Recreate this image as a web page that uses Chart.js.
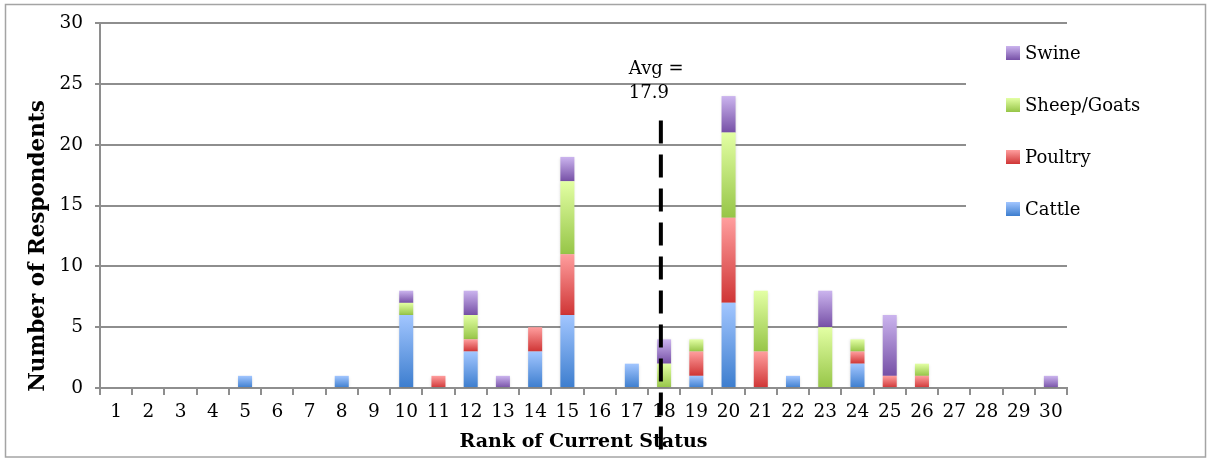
<!DOCTYPE html>
<html>
<head>
<meta charset="utf-8">
<script src="https://cdn.jsdelivr.net/npm/chart.js@4/dist/chart.umd.min.js"></script>
<style>
  html, body { margin: 0; padding: 0; background: #fff; }
  #wrap { width: 1209px; height: 459px; }
</style>
</head>
<body>
<div id="wrap"><canvas id="c" width="1209" height="459"></canvas></div>
<script>
// Rank categories shown along the x axis
const ranks = ['1','2','3','4','5','6','7','8','9','10','11','12','13','14','15',
               '16','17','18','19','20','21','22','23','24','25','26','27','28','29','30'];

// Respondents per rank, by livestock type (stacked bottom to top)
const cattle  = [0,0,0,0,1,0,0,1,0,6,0,3,0,3,6,0,2,0,1,7,0,1,0,2,0,0,0,0,0,0];
const poultry = [0,0,0,0,0,0,0,0,0,0,1,1,0,2,5,0,0,0,2,7,3,0,0,1,1,1,0,0,0,0];
const sheep   = [0,0,0,0,0,0,0,0,0,1,0,2,0,0,6,0,0,2,1,7,5,0,5,1,0,1,0,0,0,0];
const swine   = [0,0,0,0,0,0,0,0,0,1,0,2,1,0,2,0,0,2,0,3,0,0,3,0,5,0,0,0,0,1];

const seriesNames = ['Cattle', 'Poultry', 'Sheep/Goats', 'Swine'];
const yTicks = [0, 5, 10, 15, 20, 25, 30];

// Average rank marked with a dashed line
const avgRank = 17.9;

const xTitle = 'Rank of Current Status';
const yTitle = 'Number of Respondents';

// light (top) -> dark (bottom) shading for each series
const palette = {
  'Cattle':      ['#a2c6ff', '#3c7dce'],
  'Poultry':     ['#ff9e9e', '#cf3535'],
  'Sheep/Goats': ['#e3ffa4', '#96c547'],
  'Swine':       ['#cbb4ee', '#7650a6']
};

const SERIF = '"DejaVu Serif", "Liberation Serif", serif';

function gradientFill(name) {
  const [light, dark] = palette[name];
  return (ctx) => {
    const chart = ctx.chart;
    if (!chart.chartArea || ctx.type !== 'data') return dark;
    const ys = chart.scales.y;
    const i = ctx.dataIndex, di = ctx.datasetIndex;
    let base = 0;
    for (let d = 0; d < di; d++) base += chart.data.datasets[d].data[i];
    const top = base + chart.data.datasets[di].data[i];
    const y0 = ys.getPixelForValue(top), y1 = ys.getPixelForValue(base);
    if (y1 - y0 < 0.5) return dark;
    const g = chart.ctx.createLinearGradient(0, y0, 0, y1);
    g.addColorStop(0, light);
    g.addColorStop(1, dark);
    return g;
  };
}

function swatchFill(c, name, y, s) {
  const [light, dark] = palette[name];
  const g = c.createLinearGradient(0, y, 0, y + s);
  g.addColorStop(0, light);
  g.addColorStop(1, dark);
  return g;
}

const values = [cattle, poultry, sheep, swine];
const datasets = seriesNames.map((name, k) => ({
  label: name,
  data: values[k],
  backgroundColor: gradientFill(name),
  borderWidth: 0,
  categoryPercentage: 1,
  barPercentage: 0.435
}));

// white page background, outer frame and the vertical axis title
const frame = {
  id: 'frame',
  beforeDraw(chart) {
    const c = chart.ctx;
    c.save();
    c.fillStyle = '#fff';
    c.fillRect(0, 0, chart.width, chart.height);
    c.restore();
  },
  afterDraw(chart) {
    const c = chart.ctx;
    c.save();
    c.strokeStyle = '#a4a4a4';
    c.lineWidth = 1.5;
    c.strokeRect(5.5, 4.5, chart.width - 9, chart.height - 6.5);
    // y axis title, set low beside the axis
    c.translate(38, chart.chartArea.bottom - 142);
    c.rotate(-Math.PI / 2);
    c.fillStyle = '#000';
    c.font = 'bold 21.5px ' + SERIF;
    c.textAlign = 'center';
    c.textBaseline = 'middle';
    c.fillText(yTitle, 0, 0);
    c.restore();
  }
};

// faint drop shadow under the bars
const barShadow = {
  id: 'barShadow',
  beforeDatasetsDraw(chart) {
    const c = chart.ctx;
    c.save();
    c.shadowColor = 'rgba(0,0,0,0.18)';
    c.shadowBlur = 3;
    c.shadowOffsetX = 0;
    c.shadowOffsetY = 1;
  },
  afterDatasetsDraw(chart) {
    chart.ctx.restore();
  }
};

// dashed average line with its label
const avgLine = {
  id: 'avgLine',
  afterDatasetsDraw(chart) {
    const c = chart.ctx;
    const xs = chart.scales.x, ys = chart.scales.y;
    const x = xs.getPixelForValue(avgRank - 1);
    const yTop = ys.getPixelForValue(22);
    const yBot = chart.chartArea.bottom + 67;
    c.save();
    c.strokeStyle = '#000';
    c.lineWidth = 4;
    c.setLineDash([23, 11]);
    c.beginPath();
    c.moveTo(x, yTop);
    c.lineTo(x, yBot);
    c.stroke();
    c.setLineDash([]);
    c.fillStyle = '#000';
    c.font = '18px ' + SERIF;
    c.textAlign = 'left';
    c.textBaseline = 'alphabetic';
    c.fillText('Avg =', x - 32, 74);
    c.fillText(String(avgRank), x - 32, 98);
    c.restore();
  }
};

// legend panel on the right, listed top series first
const sideLegend = {
  id: 'sideLegend',
  afterDraw(chart) {
    const c = chart.ctx;
    const area = chart.chartArea;
    c.save();
    c.fillStyle = '#fff';
    c.fillRect(area.right - 101, 31, 230, 206);
    const names = seriesNames.slice().reverse();
    c.font = '18px ' + SERIF;
    c.textBaseline = 'middle';
    c.textAlign = 'left';
    names.forEach((name, k) => {
      const cy = 53 + k * 52;
      const sx = area.right - 61, s = 14;
      c.fillStyle = swatchFill(c, name, cy - 7, s);
      c.fillRect(sx, cy - 7, s, s);
      c.fillStyle = '#000';
      c.fillText(name, sx + 19, cy + 1);
    });
    c.restore();
  }
};

const gridGray = '#8e8e8e';

new Chart(document.getElementById('c'), {
  type: 'bar',
  data: { labels: ranks, datasets },
  plugins: [frame, barShadow, avgLine, sideLegend],
  options: {
    responsive: false,
    animation: false,
    devicePixelRatio: 1,
    layout: { padding: { top: 21, right: 142, bottom: 0, left: 0 } },
    plugins: {
      legend: { display: false },
      tooltip: { enabled: false }
    },
    scales: {
      x: {
        stacked: true,
        offset: true,
        grid: {
          offset: true,
          drawOnChartArea: false,
          drawTicks: true,
          tickLength: 7,
          color: gridGray,
          lineWidth: 2
        },
        border: { display: true, color: gridGray, width: 2 },
        ticks: {
          autoSkip: false,
          maxRotation: 0,
          color: '#000',
          padding: 6,
          font: { family: SERIF, size: 18.5 }
        },
        title: {
          display: true,
          text: xTitle,
          color: '#000',
          font: { family: SERIF, size: 19, weight: 'bold' },
          padding: { top: 0, bottom: 6 }
        },
        afterFit(scale) { scale.height = 71; }
      },
      y: {
        stacked: true,
        min: 0,
        max: 30,
        afterBuildTicks(scale) { scale.ticks = yTicks.map(v => ({ value: v })); },
        grid: {
          color: gridGray,
          lineWidth: 2,
          drawTicks: true,
          tickLength: 5
        },
        border: { display: true, color: gridGray, width: 2 },
        ticks: {
          color: '#000',
          padding: 12,
          font: { family: SERIF, size: 18.5 }
        },
        title: { display: false },
        afterFit(scale) { scale.width = 100; }
      }
    }
  }
});
</script>
</body>
</html>
